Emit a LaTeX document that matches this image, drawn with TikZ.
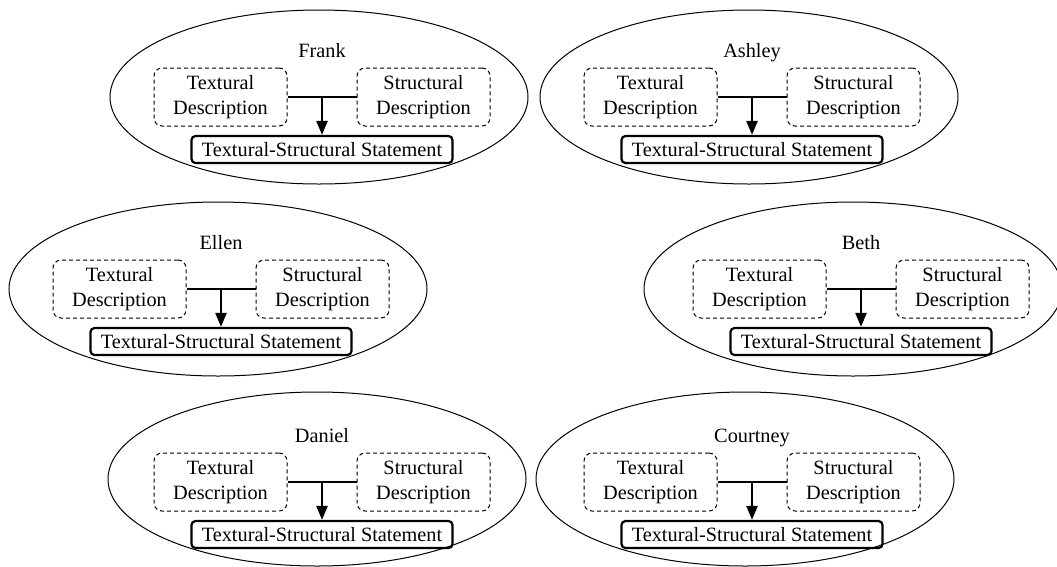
\documentclass[tikz,border=0pt]{standalone}
\usepackage{fontspec}
\setmainfont{Liberation Serif}
\usetikzlibrary{arrows.meta,calc,shapes.geometric}
\begin{document}
\begin{tikzpicture}[x=1pt,y=-1pt,
  every node/.style={font=\fontsize{20.3}{25}\selectfont},
  group/.style={draw, ellipse, line width=1pt, minimum width=418pt, minimum height=174pt, inner sep=0pt},
  descbox/.style={draw, dash pattern=on 4pt off 3pt, rounded corners=8pt, line width=1pt,
    minimum width=133pt, minimum height=58pt, align=center, inner sep=0pt},
  stmtbox/.style={draw, line width=2.2pt, rounded corners=4pt, minimum width=261pt,
    minimum height=27pt, inner sep=0pt},
  tline/.style={line width=2.4pt},
  tarrow/.style={line width=2.4pt, -{Triangle[length=14pt,width=11pt]}}]
\useasboundingbox (0,0) rectangle (1057,566);
% name / content centre x / connector y / ellipse centre x / ellipse centre y
\foreach \n/\cx/\ly/\ex/\ey in {Frank/322/97/319/97, Ashley/752/97/749/97,
    Ellen/221/289/218/289, Beth/861/289/853/289,
    Daniel/322/482/317/479, Courtney/752/482/745/479}{
  \node[group] (\n-g) at (\ex,\ey) {};
  \node[anchor=base] (\n-name) at (\cx,\ly-40) {\n};
  \node[descbox] (\n-t) at (\cx-101.5,\ly) {Textural\\Description};
  \node[descbox] (\n-s) at (\cx+101.5,\ly) {Structural\\Description};
  \node[stmtbox] (\n-st) at (\cx,\ly+52.5) {Textural-Structural Statement};
  \coordinate (\n-j) at ($(\n-t.east)!0.5!(\n-s.west)$);
  \draw[tline] (\n-t.east) -- (\n-s.west);
  \draw[tarrow] (\n-j) -- (\n-st.north);
}
\end{tikzpicture}
\end{document}
